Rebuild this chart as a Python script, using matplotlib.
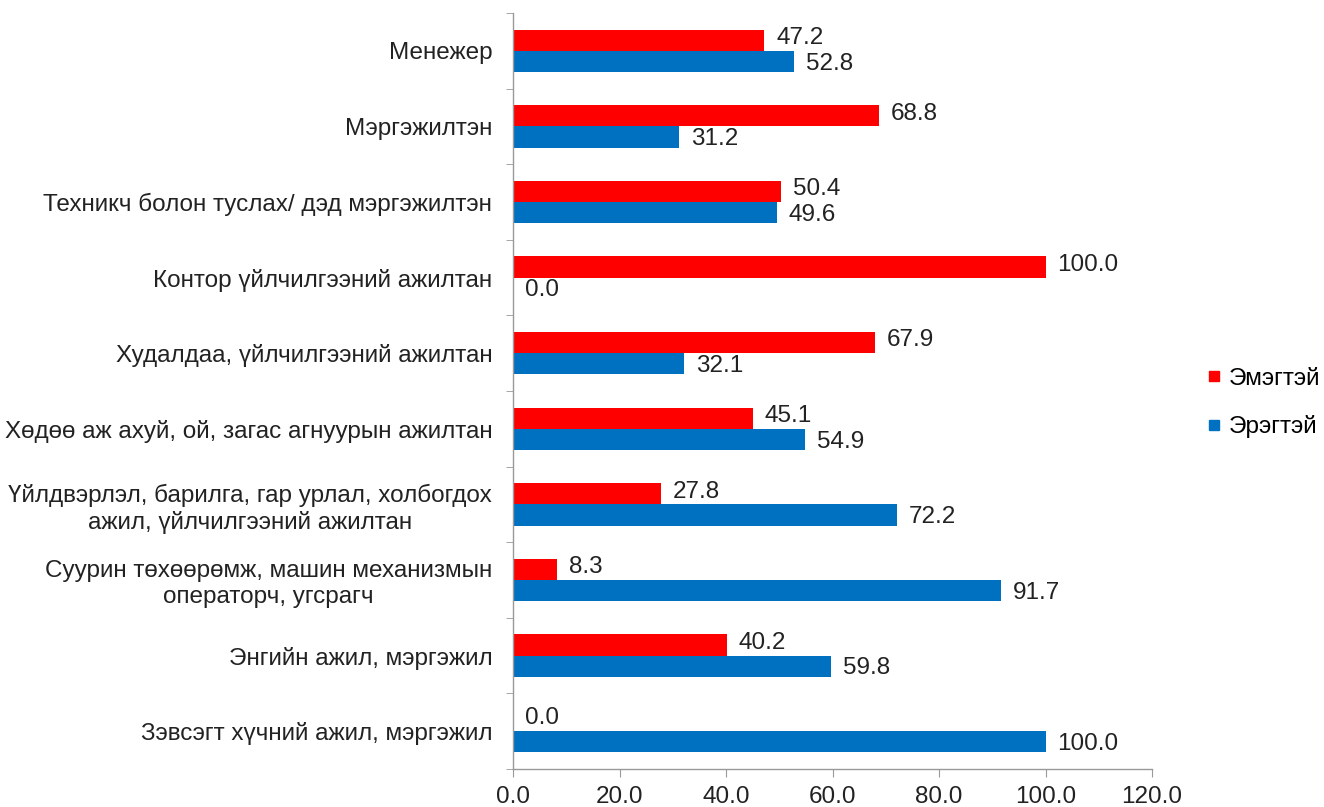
import matplotlib
matplotlib.use("Agg")
import matplotlib.pyplot as plt
from matplotlib.lines import Line2D
import numpy as np

plt.rcParams['font.family'] = ['Liberation Sans', 'DejaVu Sans']

categories = [
    "Менежер",
    "Мэргэжилтэн",
    "Техникч болон туслах/ дэд мэргэжилтэн",
    "Контор үйлчилгээний ажилтан",
    "Худалдаа, үйлчилгээний ажилтан",
    "Хөдөө аж ахуй, ой, загас агнуурын ажилтан",
    "Үйлдвэрлэл, барилга, гар урлал, холбогдох\nажил, үйлчилгээний ажилтан",
    "Суурин төхөөрөмж, машин механизмын\nоператорч, угсрагч",
    "Энгийн ажил, мэргэжил",
    "Зэвсэгт хүчний ажил, мэргэжил",
]
female = [47.2, 68.8, 50.4, 100.0, 67.9, 45.1, 27.8, 8.3, 40.2, 0.0]
male = [52.8, 31.2, 49.6, 0.0, 32.1, 54.9, 72.2, 91.7, 59.8, 100.0]
series_names = ["Эмэгтэй", "Эрэгтэй"]
xticks = [0, 20, 40, 60, 80, 100, 120]

red = "#FF0000"
blue = "#0070C0"
fs = 17.5

fig = plt.figure(figsize=(13.24, 8.07), dpi=100)
ax = fig.add_axes([513/1324, 1 - 769/807, (1152-513)/1324, (769-13)/807])

y = np.arange(len(categories))
h = 0.28
ax.barh(y - h/2, female, height=h, color=red, label=series_names[0])
ax.barh(y + h/2, male, height=h, color=blue, label=series_names[1])

for yi, v in zip(y, female):
    ax.text(v + 2.2, yi - h/2 - 0.03, f"{v:.1f}", va="center", ha="left", fontsize=fs, color="#222222")
for yi, v in zip(y, male):
    ax.text(v + 2.2, yi + h/2 + 0.03, f"{v:.1f}", va="center", ha="left", fontsize=fs, color="#222222")

ax.set_ylim(len(categories) - 0.5, -0.5)
ax.set_xlim(0, 120)
ax.set_xticks(xticks)
ax.set_xticklabels([f"{t:.1f}" for t in xticks], fontsize=fs, color="#222222")
ax.set_yticks(y)
ax.set_yticklabels(categories, fontsize=fs, color="#222222", ha="right", multialignment="center")
ax.tick_params(axis="y", which="major", length=0, pad=15)
ax.set_yticks(np.arange(-0.5, len(categories) + 0.5, 1), minor=True)
ax.tick_params(axis="y", which="minor", length=5, color="#999999", direction="out")
ax.tick_params(axis="x", length=6, color="#999999", direction="out", pad=6)

for s in ["top", "right"]:
    ax.spines[s].set_visible(False)
for s in ["left", "bottom"]:
    ax.spines[s].set_color("#999999")
    ax.spines[s].set_linewidth(1.0)

handles = [
    Line2D([0], [0], marker="s", linestyle="", markersize=7, markerfacecolor=red, markeredgecolor=red),
    Line2D([0], [0], marker="s", linestyle="", markersize=7, markerfacecolor=blue, markeredgecolor=blue),
]
fig.legend(handles, series_names, loc="center left", bbox_to_anchor=(1207/1324, 1 - 403/807),
           frameon=False, fontsize=fs, handlelength=0.6, handletextpad=0.3, labelspacing=1.05,
           borderaxespad=0, borderpad=0)

fig.savefig("out.png", dpi=100)
